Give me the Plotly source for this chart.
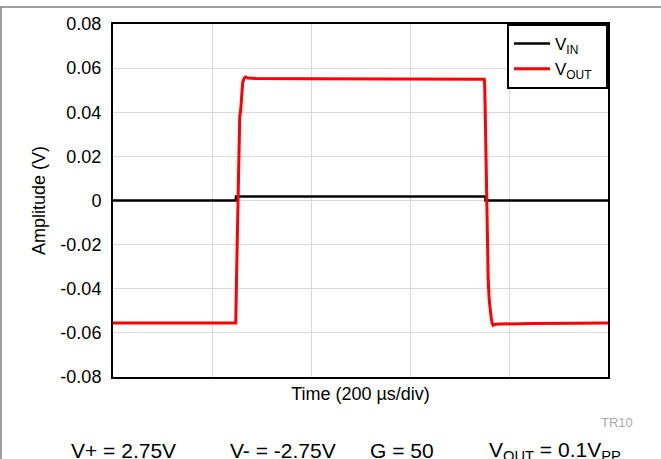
import plotly.graph_objects as go

# time in microseconds (200 us/div, 5 div)
t_in = [0, 248, 248.5, 752, 752.5, 1000]
v_in = [0, 0, 0.0018, 0.0018, 0, 0]

t_out = [0, 247, 248, 250, 253, 256, 258, 260, 262, 265, 268, 272, 290, 400, 600, 749,
         750, 751, 752, 754, 756, 758, 760, 762, 764, 766, 768, 770, 780, 850, 1000]
v_out = [-0.0555, -0.0555, -0.0555, -0.03, 0.0, 0.038, 0.041, 0.0505, 0.0535, 0.0555, 0.056, 0.0555, 0.0553, 0.0552, 0.0552, 0.0552,
         0.055, 0.052, 0.04, 0.01, -0.015, -0.036, -0.045, -0.0505, -0.053, -0.0555, -0.0565, -0.0562, -0.056, -0.0557, -0.0555]

y_ticks = [0.08, 0.06, 0.04, 0.02, 0, -0.02, -0.04, -0.06, -0.08]
y_text = ["0.08", "0.06", "0.04", "0.02", "0", "-0.02", "-0.04", "-0.06", "-0.08"]

fig = go.Figure()
fig.add_trace(go.Scatter(x=t_in, y=v_in, mode="lines", name="V<sub>IN</sub>\u00a0\u00a0",
                         line=dict(color="black", width=2.5)))
fig.add_trace(go.Scatter(x=t_out, y=v_out, mode="lines", name="V<sub>OUT</sub>\u00a0\u00a0",
                         line=dict(color="#ff0000", width=3)))

fig.update_layout(
    width=661, height=459,
    margin=dict(l=113, r=53, t=24, b=82),
    plot_bgcolor="white",
    paper_bgcolor="white",
    font=dict(family="Liberation Sans, Arial", size=18, color="black"),
    xaxis=dict(
        range=[0, 1000], dtick=200, tick0=0,
        showticklabels=False, ticks="",
        showgrid=True, gridcolor="#d9d9d9", gridwidth=1,
        zeroline=False,
        showline=True, linecolor="black", linewidth=2, mirror=True,
        title=dict(text="Time (200 µs/div)", standoff=9, font=dict(size=18)),
    ),
    yaxis=dict(
        range=[-0.08, 0.08],
        tickmode="array", tickvals=y_ticks, ticktext=y_text,
        ticks="", ticklabelstandoff=6,
        showgrid=True, gridcolor="#d9d9d9", gridwidth=1,
        zeroline=False,
        showline=True, linecolor="black", linewidth=2, mirror=True,
        title=dict(text="Amplitude (V)", standoff=10, font=dict(size=18)),
        tickfont=dict(size=18),
    ),
    legend=dict(
        x=1, y=1, xanchor="right", yanchor="top",
        bgcolor="white", bordercolor="black", borderwidth=2,
        font=dict(size=17), tracegroupgap=0,
        itemwidth=36,
    ),
    showlegend=True,
)

# outer frame lines (top and left)
fig.add_shape(type="line", xref="paper", yref="paper", x0=-0.3, x1=1.2, y0=1.048, y1=1.048,
              line=dict(color="#808080", width=1.5))
fig.add_shape(type="line", xref="paper", yref="paper", x0=-0.2263, x1=-0.2263, y0=-0.3, y1=1.048,
              line=dict(color="#808080", width=1.5))

fig.add_annotation(text="TR10", xref="paper", yref="paper", x=1.0545, y=-0.13,
                   xanchor="right", yanchor="middle", showarrow=False,
                   font=dict(size=13, color="#a8a8a8"))

notes = ["V+ = 2.75V", "V- = -2.75V", "G = 50", "V<sub>OUT</sub> = 0.1V<sub>PP</sub>"]
note_x = [-0.0889, 0.2323, 0.5152, 0.7556]
for txt, xx in zip(notes, note_x):
    fig.add_annotation(text=txt, xref="paper", yref="paper", x=xx, y=-0.2096,
                       xanchor="left", yanchor="middle", showarrow=False,
                       font=dict(size=21, color="black"))

fig.write_html("out.html", config={"displayModeBar": False},
               post_script="document.body.style.margin='0px';")
